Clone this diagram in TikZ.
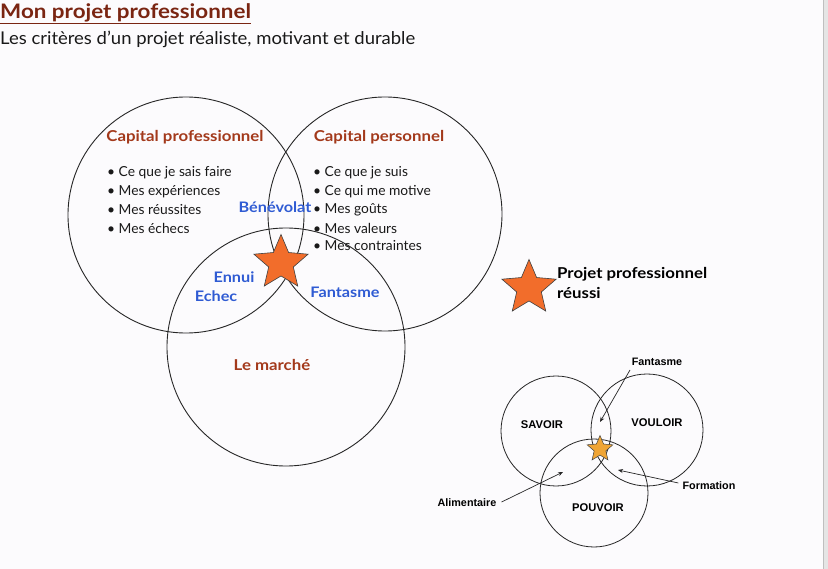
\documentclass[tikz,border=0pt]{standalone}
\usepackage{fontspec}
\setmainfont{Lato}
\newfontfamily\widefont[FakeStretch=1.12]{Lato}
\newfontfamily\subfont[FakeStretch=1.05]{Lato}
\newfontfamily\arialfont{Liberation Sans}
\usetikzlibrary{shapes.geometric,arrows.meta}
\definecolor{titlered}{HTML}{7A2512}
\definecolor{capred}{HTML}{A3391B}
\definecolor{bleu}{HTML}{2F5BD3}
\definecolor{starorange}{HTML}{F26D2B}
\definecolor{staryellow}{HTML}{F0A535}
\definecolor{bg}{HTML}{FCFBFD}
\tikzset{
  venn/.style={draw=black!85, line width=0.9pt},
  smallvenn/.style={draw=black!85, line width=0.8pt},
  caplabel/.style={font=\widefont\bfseries\fontsize{15}{17}\selectfont, text=capred, inner sep=0pt},
  bluelabel/.style={font=\widefont\bfseries\fontsize{14.5}{17}\selectfont, text=bleu, inner sep=0pt},
  item/.style={font=\fontsize{13.8}{16}\selectfont, text=black!90, inner sep=0pt, anchor=west},
  bigstar/.style={star, star points=5, star point ratio=2.2, draw=black!75, fill=starorange, line width=0.6pt, inner sep=0pt, minimum size=57pt},
  smallstar/.style={star, star points=5, star point ratio=2.2, draw=black!75, fill=staryellow, line width=0.5pt, inner sep=0pt, minimum size=27pt},
  smalllabel/.style={font=\arialfont\bfseries\fontsize{11.2}{13}\selectfont, inner sep=0pt},
  tinylabel/.style={font=\arialfont\bfseries\fontsize{10.8}{12}\selectfont, inner sep=0pt},
  arr/.style={-{Stealth[length=5pt,width=4pt]}, line width=0.7pt, black!85}
}
\begin{document}
\begin{tikzpicture}[x=1pt,y=-1pt]
\useasboundingbox (0,0) rectangle (828,569);
\fill[bg] (0,0) rectangle (828,569);
\fill[black!10] (823,0) rectangle (828,569);
\draw[black!25, line width=0.8pt] (823,0) -- (823,569);

% title
\node[anchor=west, inner sep=0pt, font=\widefont\bfseries\fontsize{20}{22}\selectfont, text=titlered] (title) at (0,14) {\underline{Mon projet professionnel}};
\node[anchor=west, inner sep=0pt, font=\subfont\fontsize{17.6}{20}\selectfont, text=black!90] (subtitle) at (0,39) {Les critères d’un projet réaliste, motivant et durable};

% big venn
\node[venn, circle, minimum size=236pt, inner sep=0pt] (cpro) at (186,215) {};
\node[venn, circle, minimum size=234pt, inner sep=0pt] (cperso) at (385,214) {};
\node[venn, circle, minimum size=238pt, inner sep=0pt] (marche) at (286,347) {};

\node[caplabel] (lpro) at (185,137) {Capital professionnel};
\node[caplabel] (lperso) at (379,137) {Capital personnel};
\node[caplabel] (lmarche) at (272,365) {Le marché};

\node[item] (p1) at (107,173) {\textbullet\ Ce que je sais faire};
\node[item] (p2) at (107,192) {\textbullet\ Mes expériences};
\node[item] (p3) at (107,210) {\textbullet\ Mes réussites};
\node[item] (p4) at (107,228) {\textbullet\ Mes échecs};

\node[item] (q1) at (313,173) {\textbullet\ Ce que je suis};
\node[item] (q2) at (313,192) {\textbullet\ Ce qui me motive};
\node[item] (q3) at (313,210) {\textbullet\ Mes goûts};
\node[item] (q4) at (313,228) {\textbullet\ Mes valeurs};
\node[item] (q5) at (313,246) {\textbullet\ Mes contraintes};

\node[bluelabel] (benev) at (275,207) {Bénévolat};
\node[bluelabel] (ennui) at (234,277) {Ennui};
\node[bluelabel] (echec) at (216,296) {Echec};
\node[bluelabel] (fant) at (345,292) {Fantasme};

\node[bigstar] (bigstar) at (281,263) {};

% legend
\node[bigstar] (legstar) at (529,288) {};
\node[anchor=north west, inner sep=0pt, align=left, font=\widefont\bfseries\fontsize{15}{20}\selectfont] (legtext) at (557,267) {Projet professionnel\\réussi};

% small venn
\node[smallvenn, circle, minimum size=110pt, inner sep=0pt] (savoir) at (556,431) {};
\node[smallvenn, circle, minimum size=112pt, inner sep=0pt] (vouloir) at (647,430) {};
\node[smallvenn, circle, minimum size=108pt, inner sep=0pt] (pouvoir) at (594,493) {};

\node[smalllabel] (lsavoir) at (542,425) {SAVOIR};
\node[smalllabel] (lvouloir) at (657,423) {VOULOIR};
\node[smalllabel] (lpouvoir) at (598,508) {POUVOIR};

\node[smallstar] (smallstar) at (600,449) {};

\node[tinylabel] (sfant) at (657,362) {Fantasme};
\node[tinylabel] (sform) at (709,486) {Formation};
\node[tinylabel] (salim) at (467,503) {Alimentaire};

\coordinate (tfant) at (600,422);
\coordinate (tform) at (618,470);
\coordinate (talim) at (563,472);
\draw[arr] (630,370) -- (tfant);
\draw[arr] (sform.west) ++(-4,-3) -- (tform);
\draw[arr] (salim.east) ++(5,-1) -- (talim);
\end{tikzpicture}
\end{document}
